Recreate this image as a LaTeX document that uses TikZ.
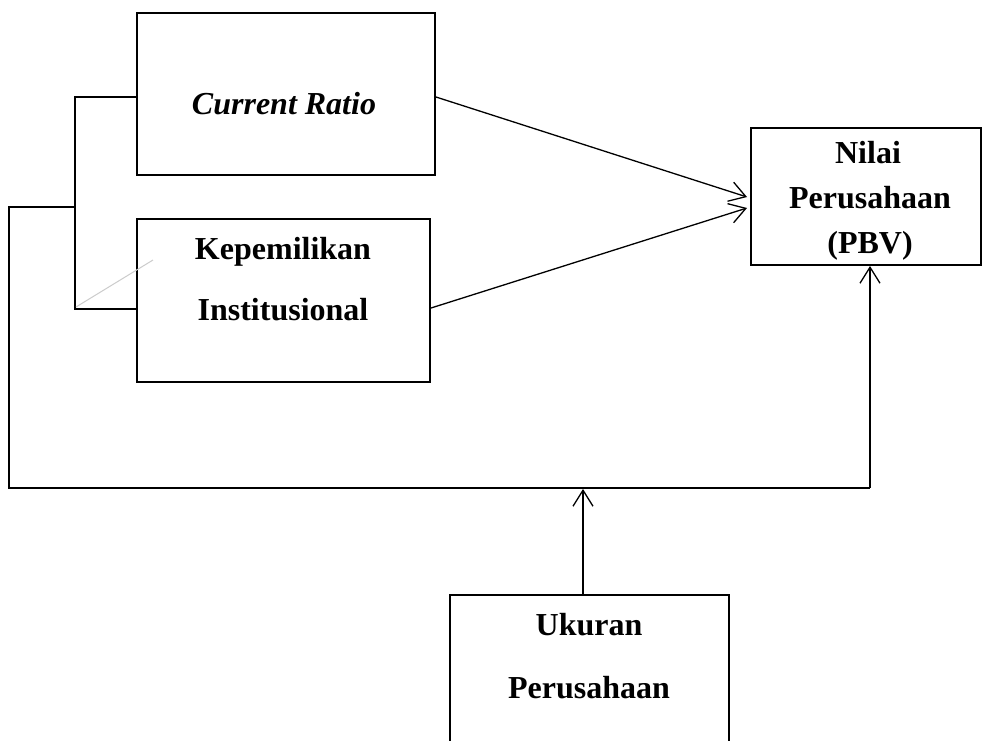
\documentclass[tikz,border=0pt]{standalone}
\usepackage{fontspec}
\setmainfont{Liberation Serif}
\usetikzlibrary{arrows.meta}
\tikzset{
  box/.style={draw=black, line width=2pt, inner sep=0pt},
  conn/.style={draw=black, line width=1.3pt},
  arr/.style={conn, -{Straight Barb[length=16pt,width=20pt,line width=1.3pt]}},
  txt/.style={font=\fontsize{32}{38}\selectfont\bfseries, anchor=base, inner sep=0pt},
}
\begin{document}
\begin{tikzpicture}[x=1pt,y=-1pt]
\clip (0,0) rectangle (982,740);
\fill[white] (0,0) rectangle (982,740);
% boxes
\node[box, minimum width=298pt, minimum height=162pt] (cr) at (286,94) {};
\node[box, minimum width=293pt, minimum height=163pt] (ki) at (283.5,300.5) {};
\node[box, minimum width=230pt, minimum height=137pt] (np) at (866,196.5) {};
\node[box, minimum width=279pt, minimum height=250pt] (uk) at (589.5,720) {};
% texts
\node[txt] (t1) at (284,114) {\textit{Current Ratio}};
\node[txt] (t2) at (283,259) {Kepemilikan};
\node[txt] (t3) at (283,320) {Institusional};
\node[txt] (t4) at (868,163) {Nilai};
\node[txt] (t5) at (870,208) {Perusahaan};
\node[txt] (t6) at (870,253) {(PBV)};
\node[txt] (t7) at (589,635) {Ukuran};
\node[txt] (t8) at (589,698) {Perusahaan};
% coordinates
\coordinate (bt) at (75,97);
\coordinate (bb) at (75,309);
\coordinate (bm) at (75,207);
\coordinate (lm) at (9,207);
\coordinate (lb) at (9,488);
\coordinate (rb) at (870,488);
\coordinate (ut) at (583,489);
\coordinate (ca) at (747,197);
\coordinate (ka) at (747,208);
% bracket
\draw[conn] (bt -| cr.west) -- (bt) -- (bb) -- (bb -| ki.west);
\draw[conn] (bm) -- (lm) -- (lb) -- (rb);
\draw[arr] (rb) -- (rb |- np.south);
\draw[arr] (uk.north -| ut) -- (ut);
% arrows to np
\draw[arr] (cr.east |- bt) -- (ca);
\draw[arr] (ki.east |- 0,308) -- (ka);
% faint grey line
\draw[gray!40, line width=1pt] (76,307) -- (153,260);
\end{tikzpicture}
\end{document}
